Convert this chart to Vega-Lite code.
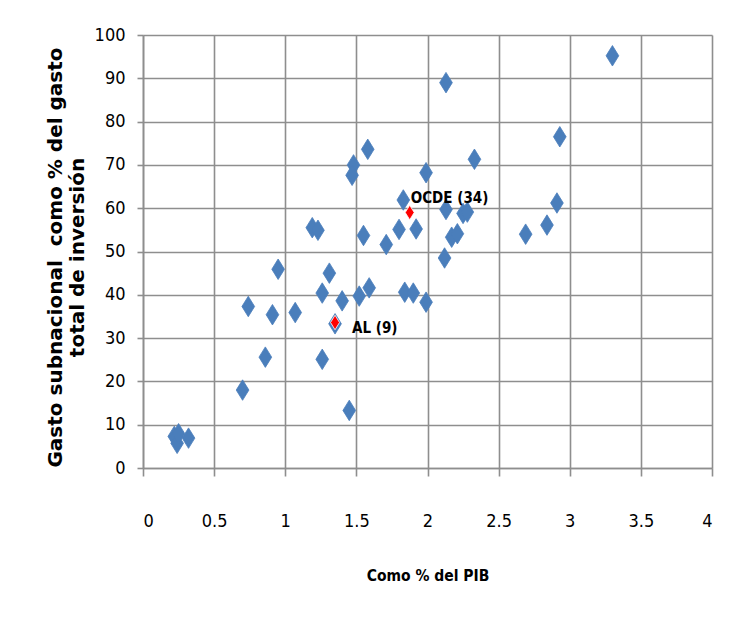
{
  "$schema": "https://vega.github.io/schema/vega-lite/v6.json",
  "width": 569,
  "height": 433,
  "autosize": "none",
  "padding": {"left": 143, "top": 35, "right": 19, "bottom": 150},
  "background": "white",
  "config": {
    "view": {"stroke": null},
    "axis": {
      "grid": true,
      "gridColor": "#8e8e8e",
      "gridWidth": 1.6,
      "domainColor": "#8e8e8e",
      "domainWidth": 1.6,
      "tickColor": "#8e8e8e",
      "tickWidth": 1.6,
      "labelFont": "DejaVu Sans Condensed",
      "labelFontSize": 18,
      "labelColor": "#000000",
      "titleColor": "#000000"
    }
  },
  "datasets": {
    "pts": [
      {"x": 3.30, "y": 95.2}, {"x": 2.13, "y": 89.0}, {"x": 2.93, "y": 76.5},
      {"x": 1.58, "y": 73.6}, {"x": 2.33, "y": 71.3}, {"x": 1.48, "y": 70.0},
      {"x": 1.47, "y": 67.6}, {"x": 1.99, "y": 68.2}, {"x": 1.83, "y": 61.9},
      {"x": 2.13, "y": 59.7}, {"x": 2.25, "y": 58.8}, {"x": 2.28, "y": 59.1},
      {"x": 2.91, "y": 61.2}, {"x": 1.19, "y": 55.5}, {"x": 1.23, "y": 54.9},
      {"x": 1.55, "y": 53.7}, {"x": 1.80, "y": 55.1}, {"x": 1.92, "y": 55.2},
      {"x": 1.71, "y": 51.6}, {"x": 2.17, "y": 53.3}, {"x": 2.21, "y": 54.1},
      {"x": 2.69, "y": 54.0}, {"x": 2.84, "y": 56.1}, {"x": 2.12, "y": 48.5},
      {"x": 0.95, "y": 45.9}, {"x": 1.31, "y": 45.0}, {"x": 1.26, "y": 40.4},
      {"x": 1.40, "y": 38.6}, {"x": 1.52, "y": 39.7}, {"x": 1.59, "y": 41.6},
      {"x": 1.84, "y": 40.6}, {"x": 1.90, "y": 40.4}, {"x": 1.99, "y": 38.3},
      {"x": 0.74, "y": 37.3}, {"x": 0.91, "y": 35.4}, {"x": 1.07, "y": 35.9},
      {"x": 1.35, "y": 33.3}, {"x": 0.86, "y": 25.6}, {"x": 1.26, "y": 25.1},
      {"x": 0.70, "y": 18.0}, {"x": 1.45, "y": 13.3}, {"x": 0.22, "y": 7.3},
      {"x": 0.24, "y": 5.7}, {"x": 0.25, "y": 7.9}, {"x": 0.32, "y": 6.9}
    ],
    "agg": [
      {"x": 1.875, "y": 59.0, "label": "OCDE (34)"},
      {"x": 1.35, "y": 33.6, "label": "AL (9)"}
    ]
  },
  "layer": [
    {
      "data": {"name": "pts"},
      "mark": {
        "type": "point",
        "shape": "M0,-1L0.62,0L0,1L-0.62,0Z",
        "filled": true,
        "size": 420,
        "color": "#4a7ebb",
        "opacity": 1,
        "stroke": "#4a7ebb",
        "strokeWidth": 0.8
      },
      "encoding": {
        "x": {
          "field": "x", "type": "quantitative",
          "scale": {"domain": [0, 4], "nice": false, "zero": true},
          "axis": {
            "values": [0, 0.5, 1, 1.5, 2, 2.5, 3, 3.5, 4],
            "labelExpr": "datum.value",
            "tickSize": 8,
            "labelPadding": 36,
            "title": "Como % del PIB",
            "titleFont": "DejaVu Sans Condensed",
            "titleFontSize": 15.5,
            "titleFontWeight": "bold",
            "titleY": 107,
            "titleBaseline": "middle"
          }
        },
        "y": {
          "field": "y", "type": "quantitative",
          "scale": {"domain": [0, 100], "nice": false},
          "axis": {
            "values": [0, 10, 20, 30, 40, 50, 60, 70, 80, 90, 100],
            "tickSize": 6,
            "labelPadding": 12,
            "title": ["Gasto subnacional\u00a0 como % del gasto", "total de inversión"],
            "titleFont": "DejaVu Sans",
            "titleFontSize": 20,
            "titleFontWeight": "bold",
            "titleLineHeight": 22,
            "titleX": -88,
            "titleY": 222,
            "titleAngle": -90,
            "titleAlign": "center",
            "titleBaseline": "middle"
          }
        }
      }
    },
    {
      "data": {"name": "agg"},
      "mark": {
        "type": "point",
        "shape": "M0,-1L0.62,0L0,1L-0.62,0Z",
        "filled": true,
        "size": 210,
        "color": "#ff0000",
        "opacity": 1,
        "stroke": "#ffffff",
        "strokeWidth": 0.8
      },
      "encoding": {
        "x": {"field": "x", "type": "quantitative"},
        "y": {"field": "y", "type": "quantitative"}
      }
    },
    {
      "data": {"name": "agg"},
      "transform": [{"filter": "datum.label == 'OCDE (34)'"}],
      "mark": {
        "type": "text",
        "align": "left",
        "baseline": "middle",
        "dx": 1,
        "dy": -15,
        "font": "DejaVu Sans Condensed",
        "fontSize": 15,
        "fontWeight": "bold",
        "color": "#000000"
      },
      "encoding": {
        "x": {"field": "x", "type": "quantitative"},
        "y": {"field": "y", "type": "quantitative"},
        "text": {"field": "label"}
      }
    },
    {
      "data": {"name": "agg"},
      "transform": [{"filter": "datum.label == 'AL (9)'"}],
      "mark": {
        "type": "text",
        "align": "left",
        "baseline": "middle",
        "dx": 17,
        "dy": 5,
        "font": "DejaVu Sans Condensed",
        "fontSize": 15,
        "fontWeight": "bold",
        "color": "#000000"
      },
      "encoding": {
        "x": {"field": "x", "type": "quantitative"},
        "y": {"field": "y", "type": "quantitative"},
        "text": {"field": "label"}
      }
    }
  ]
}
